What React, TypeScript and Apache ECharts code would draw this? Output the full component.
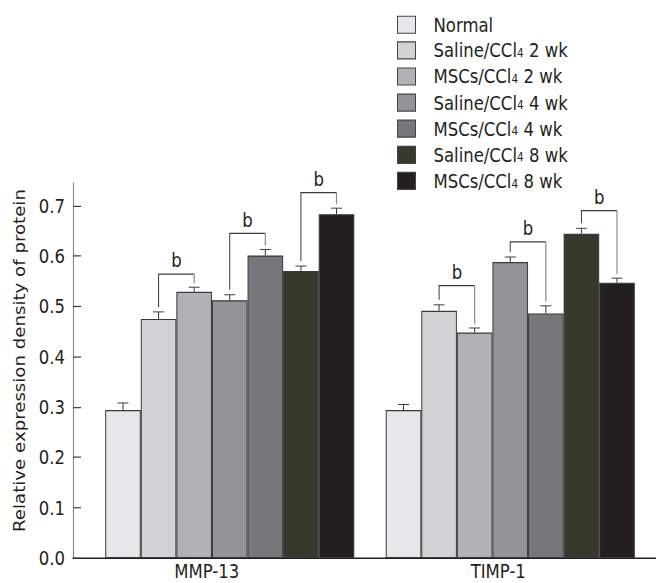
import React, { useEffect, useRef } from "react";
import * as echarts from "echarts";

const categories = ["MMP-13", "TIMP-1"];
const seriesNames = [
  "Normal",
  "Saline/CCl4 2 wk",
  "MSCs/CCl4 2 wk",
  "Saline/CCl4 4 wk",
  "MSCs/CCl4 4 wk",
  "Saline/CCl4 8 wk",
  "MSCs/CCl4 8 wk",
];
const seriesColors = ["#e6e7e9", "#d1d2d4", "#b1b2b5", "#939498", "#76777b", "#36392b", "#231f20"];

const normal = [0.294, 0.294];
const saline2 = [0.475, 0.491];
const mscs2 = [0.529, 0.448];
const saline4 = [0.512, 0.588];
const mscs4 = [0.601, 0.486];
const saline8 = [0.57, 0.644];
const mscs8 = [0.683, 0.547];

const normalErr = [0.014, 0.011];
const saline2Err = [0.014, 0.012];
const mscs2Err = [0.009, 0.009];
const saline4Err = [0.011, 0.01];
const mscs4Err = [0.012, 0.015];
const saline8Err = [0.01, 0.011];
const mscs8Err = [0.012, 0.009];

const yTickValues = [0, 0.1, 0.2, 0.3, 0.4, 0.5, 0.6, 0.7];

// significance brackets
const bracketGroup = [0, 0, 0, 1, 1, 1];
const bracketLeft = [1, 3, 5, 1, 3, 5];
const bracketRight = [2, 4, 6, 2, 4, 6];
const bracketLevel = [0.564, 0.645, 0.726, 0.541, 0.628, 0.69];
const bracketText = ["b", "b", "b", "b", "b", "b"];

const values = [normal, saline2, mscs2, saline4, mscs4, saline8, mscs8];
const errors = [normalErr, saline2Err, mscs2Err, saline4Err, mscs4Err, saline8Err, mscs8Err];

const FONT = '"DejaVu Sans", Verdana, sans-serif';
const TEXT = "#231f20";
const GAP = 0.112;
const N = seriesNames.length;
const Y_MAX = 0.745;
// the reference figure is slightly stretched vertically
const S = 1.15;
const W = 656;
const H = 583;
const vy = (px: number) => px / S;

function barX(api: any, cat: number, idx: number) {
  const band = api.size([1, 0])[0];
  const bw = (band * (1 - GAP)) / N;
  const center = api.coord([cat, 0])[0];
  return center - (bw * N) / 2 + bw * (idx + 0.5);
}

export default function App() {
  const ref = useRef<HTMLDivElement>(null);
  useEffect(() => {
    document.body.style.margin = "0";
    if (!ref.current) return;
    const chart = echarts.init(ref.current, null, { renderer: "svg" });

    const barSeries = seriesNames.map((name, i) => ({
      name,
      type: "bar",
      xAxisIndex: 0,
      yAxisIndex: 0,
      data: values[i],
      barGap: "0%",
      barCategoryGap: GAP * 100 + "%",
      itemStyle: { color: seriesColors[i], borderColor: "#3a3a3a", borderWidth: 1 },
      z: 2,
    }));

    const errData: any[] = [];
    values.forEach((arr, i) => {
      arr.forEach((v, c) => errData.push([c, i, v, errors[i][c]]));
    });

    const bracketData = bracketGroup.map((c, k) => [
      c,
      bracketLeft[k],
      bracketRight[k],
      bracketLevel[k],
      values[bracketLeft[k]][c] + errors[bracketLeft[k]][c],
      values[bracketRight[k]][c] + errors[bracketRight[k]][c],
      k,
    ]);

    const option: any = {
      animation: false,
      textStyle: { fontFamily: FONT, color: TEXT },
      legend: {
        orient: "vertical",
        left: 397,
        top: vy(15),
        padding: 0,
        icon: "rect",
        itemWidth: 18,
        itemHeight: vy(17),
        itemGap: vy(26.7) - 18,
        data: seriesNames,
        itemStyle: { borderColor: "#444", borderWidth: 1 },
        formatter: (name: string) => {
          if (name.indexOf("CCl4") >= 0) {
            const [a, b] = name.split("CCl4");
            return `{f|${a}CCl}{s|4}{n|${b}}`;
          }
          return `{f|${name}}`;
        },
        textStyle: {
          rich: {
            f: { fontSize: 16.5, fontFamily: FONT, color: TEXT, lineHeight: 18, padding: [0, 0, 0, 13] },
            n: { fontSize: 16.5, fontFamily: FONT, color: TEXT, lineHeight: 18 },
            s: { fontSize: 10.5, fontFamily: FONT, color: TEXT, lineHeight: 13, verticalAlign: "bottom", padding: [0, 0, 1, 0] },
          },
        },
      },
      grid: [
        { left: 89.5, right: 5.5, top: vy(183), bottom: vy(25), outerBoundsMode: "none" },
        { left: 73, right: 0, top: vy(183), bottom: vy(25), outerBoundsMode: "none" },
      ],
      xAxis: [
        { type: "category", gridIndex: 0, data: categories, show: false },
        {
          type: "category",
          gridIndex: 1,
          data: categories,
          axisLine: { lineStyle: { color: TEXT, width: 1.3 } },
          axisTick: { inside: true, length: vy(7), lineStyle: { color: "#555" } },
          axisLabel: {
            fontSize: 16.5,
            fontFamily: FONT,
            color: TEXT,
            lineHeight: 13,
            margin: 5,
            padding: [0, 24, 0, 0],
          },
        },
      ],
      yAxis: [
        { type: "value", gridIndex: 0, min: 0, max: Y_MAX, show: false, splitLine: { show: false } },
        {
          type: "value",
          gridIndex: 1,
          min: 0,
          max: Y_MAX,
          interval: 0.1,
          name: "Relative expression density of protein",
          nameLocation: "middle",
          nameGap: 43,
          nameTextStyle: { fontSize: 15.8, fontFamily: FONT, color: TEXT, padding: [0, 0, 0, vy(20)] },
          splitLine: { show: false },
          axisLine: { show: true, lineStyle: { color: "#8a8a8a", width: 1.2 } },
          axisTick: { show: true, inside: true, length: 8, lineStyle: { color: "#333" }, customValues: yTickValues },
          axisLabel: {
            fontSize: 16.5,
            fontFamily: FONT,
            color: TEXT,
            margin: 8,
            customValues: yTickValues,
            formatter: (v: number) => v.toFixed(1),
          },
        },
      ],
      series: [
        ...barSeries,
        {
          type: "custom",
          name: "error",
          xAxisIndex: 0,
          yAxisIndex: 0,
          z: 5,
          data: errData,
          encode: { x: 0, y: 2 },
          renderItem: (params: any, api: any) => {
            const c = api.value(0);
            const i = api.value(1);
            const v = api.value(2);
            const e = api.value(3);
            const x = barX(api, c, i);
            const y0 = api.coord([c, v])[1];
            const y1 = api.coord([c, v + e])[1];
            const style = { stroke: "#333", lineWidth: 1 };
            return {
              type: "group",
              children: [
                { type: "line", shape: { x1: x, y1: y0, x2: x, y2: y1 }, style },
                { type: "line", shape: { x1: x - 5.5, y1: y1, x2: x + 5.5, y2: y1 }, style: { stroke: "#333", lineWidth: 1 / S } },
              ],
            };
          },
        },
        {
          type: "custom",
          name: "brackets",
          xAxisIndex: 0,
          yAxisIndex: 0,
          z: 6,
          data: bracketData,
          encode: { x: 0, y: 3 },
          renderItem: (params: any, api: any) => {
            const c = api.value(0);
            const li = api.value(1);
            const ri = api.value(2);
            const lvl = api.value(3);
            const lTop = api.value(4);
            const rTop = api.value(5);
            const k = api.value(6);
            const xl = barX(api, c, li);
            const xr = barX(api, c, ri);
            const yT = api.coord([c, lvl])[1];
            const yl = api.coord([c, lTop])[1] - vy(5);
            const yr = api.coord([c, rTop])[1] - vy(4);
            return {
              type: "group",
              children: [
                {
                  type: "polyline",
                  shape: { points: [[xl, yl], [xl, yT], [xr, yT]] },
                  style: { stroke: "#3a3a3a", lineWidth: 1, fill: "none" },
                },
                {
                  type: "line",
                  shape: { x1: xr, y1: yT, x2: xr, y2: yr },
                  style: { stroke: "#8a8a8a", lineWidth: 1.2 },
                },
                {
                  type: "text",
                  x: (xl + xr) / 2,
                  y: yT - vy(4),
                  style: {
                    text: bracketText[k],
                    fontSize: 16.5,
                    fontFamily: FONT,
                    fill: TEXT,
                    textAlign: "center",
                    textVerticalAlign: "bottom",
                  },
                },
              ],
            };
          },
        },
      ],
    };

    chart.setOption(option);
    return () => chart.dispose();
  }, []);

  return (
    <div style={{ width: W, height: H, overflow: "hidden" }}>
      <div
        ref={ref}
        style={{ width: W, height: H / S, transform: `scaleY(${S})`, transformOrigin: "0 0" }}
      />
    </div>
  );
}
